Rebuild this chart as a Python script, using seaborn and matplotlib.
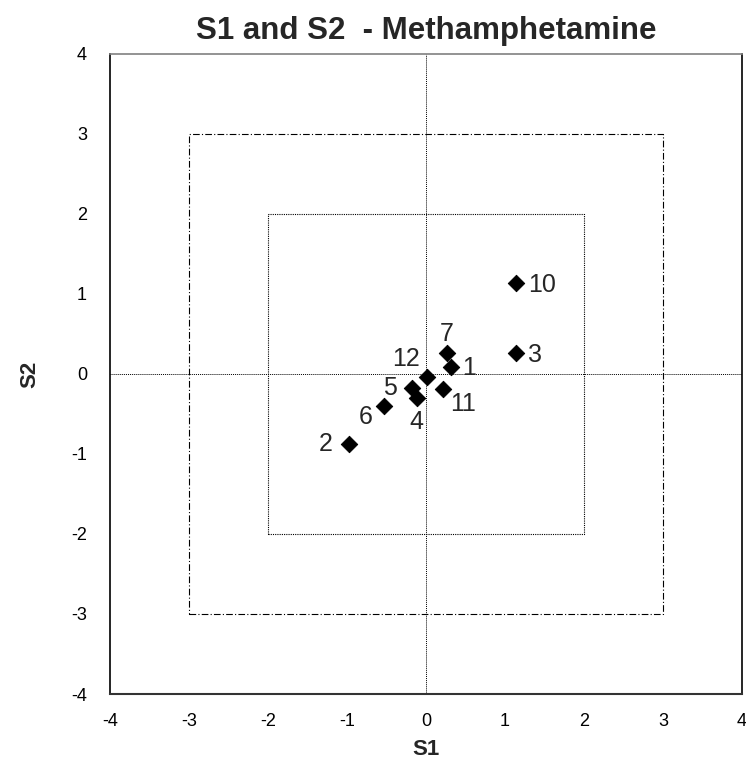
import matplotlib
matplotlib.use("Agg")
import matplotlib.pyplot as plt
import seaborn as sns
import pandas as pd

# point labels and scores
labels = ["1", "2", "3", "4", "5", "6", "7", "10", "11", "12"]
s1 = [0.32, -0.97, 1.14, -0.12, -0.18, -0.53, 0.26, 1.14, 0.22, 0.01]
s2 = [0.09, -0.87, 0.26, -0.30, -0.18, -0.40, 0.26, 1.14, -0.19, -0.04]

# label offsets in points (dx, dy)
offsets = {
    "1": (13, -1), "2": (-17, 0), "3": (14, -1.5), "4": (0, -17),
    "5": (-16, 0), "6": (-13, -8), "7": (0, 14), "10": (19, -1.5),
    "11": (14, -11), "12": (-15, 13),
}

df = pd.DataFrame({"S1": s1, "S2": s2, "label": labels})

sns.set_style("white")
plt.rcParams["font.family"] = ["Liberation Sans", "DejaVu Sans"]
plt.rcParams["axes.unicode_minus"] = False

fig = plt.figure(figsize=(7.46, 7.70), dpi=100)
ax = fig.add_axes([0.1475, 0.0987, 0.8471, 0.8312])

# reference squares and zero lines
ax.plot([-3, 3, 3, -3, -3], [-3, -3, 3, 3, -3], color="black", lw=0.8,
        linestyle=(0, (6, 2, 1, 2)))
ax.plot([-2, 2, 2, -2, -2], [-2, -2, 2, 2, -2], color="black", lw=0.8,
        linestyle=(0, (1, 1)))
ax.axhline(0, color="black", lw=0.7, linestyle=(0, (1, 1)))
ax.axvline(0, color="black", lw=0.7, linestyle=(0, (1, 1)))

sns.scatterplot(data=df, x="S1", y="S2", marker="D", color="black",
                s=70, edgecolor="black", ax=ax, zorder=3)

for _, row in df.iterrows():
    dx, dy = offsets[row["label"]]
    ax.annotate(row["label"], (row["S1"], row["S2"]), xytext=(dx, dy),
                textcoords="offset points", ha="center", va="center",
                fontsize=18)

ax.set_xlim(-4, 4)
ax.set_ylim(-4, 4)
ax.set_xticks(range(-4, 5))
ax.set_yticks(range(-4, 5))
ax.tick_params(direction="inout", length=9, width=1, labelsize=13,
               colors="black")
ax.tick_params(axis="y", pad=12)
ax.tick_params(axis="x", pad=9)
for side in ["left", "bottom", "right"]:
    ax.spines[side].set_color("black")
    ax.spines[side].set_linewidth(1.2)
ax.spines["top"].set_color("#808080")
ax.spines["top"].set_linewidth(1.2)
ax.spines["bottom"].set_color("#333333")
ax.spines["bottom"].set_linewidth(1.5)

ax.set_xlabel("S1", fontsize=16, fontweight="bold", va="center")
ax.set_ylabel("S2", fontsize=16, fontweight="bold", va="center")
ax.xaxis.set_label_coords(0.5, -0.086)
ax.yaxis.set_label_coords(-0.127, 0.5)
ax.set_title("S1 and S2  - Methamphetamine", fontsize=22.5,
             fontweight="bold", pad=11)

fig.savefig("out.png", dpi=100)
